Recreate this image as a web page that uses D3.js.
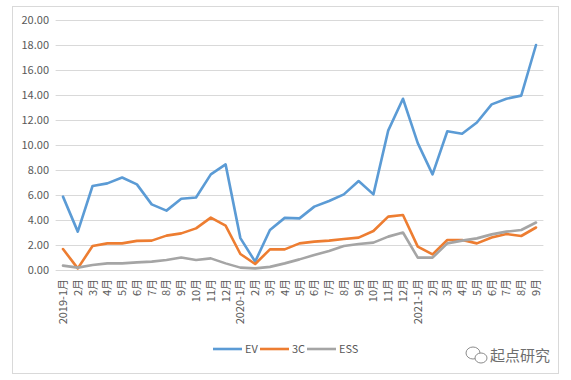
<!DOCTYPE html>
<html><head><meta charset="utf-8">
<script src="https://cdn.jsdelivr.net/npm/d3@7"></script>
<style>body{margin:0;background:#fff}svg{display:block}</style>
</head><body>
<svg id="c" width="571" height="380"></svg>
<script>
const months = ["2019-1月","2月","3月","4月","5月","6月","7月","8月","9月","10月","11月","12月",
"2020-1月","2月","3月","4月","5月","6月","7月","8月","9月","10月","11月","12月",
"2021-1月","2月","3月","4月","5月","6月","7月","8月","9月"];
const ev = [5.87,3.07,6.72,6.93,7.4,6.85,5.25,4.75,5.7,5.8,7.65,8.45,
2.55,0.67,3.2,4.17,4.13,5.07,5.52,6.05,7.12,6.05,11.15,13.7,
10.15,7.65,11.1,10.9,11.8,13.25,13.7,13.95,18.0];
const c3 = [1.68,0.13,1.92,2.13,2.13,2.33,2.35,2.75,2.93,3.33,4.19,3.55,
1.28,0.48,1.65,1.65,2.13,2.27,2.35,2.48,2.59,3.12,4.27,4.4,
1.87,1.25,2.4,2.4,2.13,2.6,2.88,2.72,3.4];
const ess = [0.35,0.19,0.4,0.53,0.53,0.61,0.67,0.8,1.0,0.8,0.93,0.53,
0.19,0.13,0.25,0.53,0.85,1.2,1.52,1.92,2.08,2.19,2.67,3.0,
0.99,0.99,2.13,2.35,2.53,2.85,3.07,3.2,3.8];
const yTicks = [0,2,4,6,8,10,12,14,16,18,20];
const series = [
  {name:"EV", values:ev, color:"#5B9BD5"},
  {name:"3C", values:c3, color:"#ED7D31"},
  {name:"ESS", values:ess, color:"#A5A5A5"}
];

const svg = d3.select("#c");
const font = "'Noto Sans CJK SC','Liberation Sans',sans-serif";
svg.append("rect").attr("x",12.5).attr("y",6.5).attr("width",546).attr("height",367)
  .attr("fill","#fff").attr("stroke","#D9D9D9");

const x = d3.scaleBand().domain(d3.range(months.length)).range([55.6,543.4]);
const y = d3.scaleLinear().domain([0,20]).range([270,20]);

const g = svg.append("g");
g.selectAll("line.grid").data(yTicks).join("line")
  .attr("x1",55.6).attr("x2",543.4)
  .attr("y1",d=>Math.round(y(d))+0.5).attr("y2",d=>Math.round(y(d))+0.5)
  .attr("stroke","#D9D9D9").attr("stroke-width",1);

g.selectAll("text.yl").data(yTicks).join("text")
  .attr("x",49).attr("y",d=>y(d)).attr("dy","0.35em")
  .attr("text-anchor","end").attr("font-family",font).attr("font-size",11)
  .attr("fill","#595959").text(d=>d.toFixed(2));

g.selectAll("text.xl").data(months).join("text")
  .attr("transform",(d,i)=>`translate(${x(i)+x.bandwidth()/2+4},279) rotate(-90)`)
  .attr("text-anchor","end").attr("font-family",font).attr("font-size",11)
  .attr("fill","#595959").text(d=>d);

const line = d3.line().x((d,i)=>x(i)+x.bandwidth()/2).y(d=>y(d));
series.forEach(s=>{
  g.append("path").datum(s.values).attr("d",line).attr("fill","none")
    .attr("stroke",s.color).attr("stroke-width",2.6).attr("stroke-linejoin","round").attr("stroke-linecap","round");
});

// legend
const lx = [213,260,307];
series.forEach((s,i)=>{
  svg.append("line").attr("x1",lx[i]).attr("x2",lx[i]+29).attr("y1",349).attr("y2",349)
    .attr("stroke",s.color).attr("stroke-width",2.6);
  svg.append("text").attr("x",lx[i]+32).attr("y",349).attr("dy","0.35em")
    .attr("font-family",font).attr("font-size",11).attr("fill","#595959").text(s.name);
});

// watermark
const wm = svg.append("g").attr("fill","none").attr("stroke","#8c8c8c").attr("stroke-width",1);
wm.append("ellipse").attr("cx",473).attr("cy",353).attr("rx",7).attr("ry",6);
wm.append("ellipse").attr("cx",481).attr("cy",358).attr("rx",6).attr("ry",5).attr("fill","#fff");
svg.append("text").attr("x",490).attr("y",356).attr("dy","0.35em")
  .attr("font-family",font).attr("font-size",15).attr("fill","#6e6e6e").text("起点研究");
</script>
</body></html>
